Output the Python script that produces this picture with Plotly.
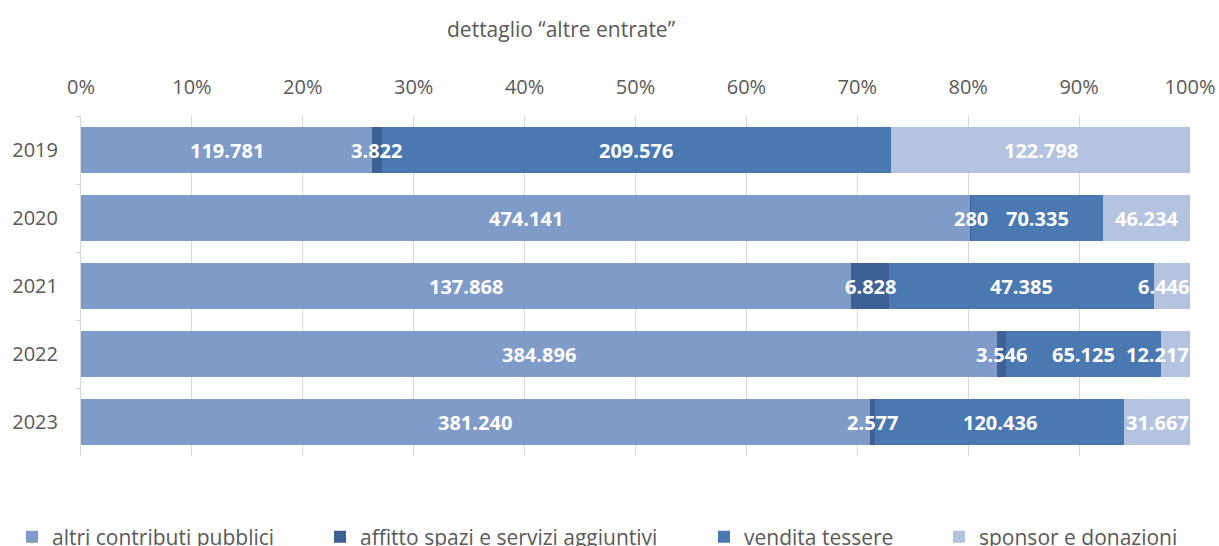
import plotly.graph_objects as go

years = ["2019", "2020", "2021", "2022", "2023"]
series_names = ["altri contributi pubblici", "affitto spazi e servizi aggiuntivi",
                "vendita tessere", "sponsor e donazioni"]
altri_contributi = [119781, 474141, 137868, 384896, 381240]
affitto_spazi = [3822, 280, 6828, 3546, 2577]
vendita_tessere = [209576, 70335, 47385, 65125, 120436]
sponsor_donazioni = [122798, 46234, 6446, 12217, 31667]
tick_labels = ["0%", "10%", "20%", "30%", "40%", "50%", "60%", "70%", "80%", "90%", "100%"]

series_values = [altri_contributi, affitto_spazi, vendita_tessere, sponsor_donazioni]
colors = ["#7F9CC8", "#3D6194", "#4A78B0", "#B4C3DF"]
legend_ids = ["legend", "legend2", "legend3", "legend4"]
legend_x_px = [12, 320, 704, 939]

def fmt(v):
    return f"{v:,}".replace(",", ".")

W, H = 1219, 546
L, R, T, B = 81, 29, 116, 90
PW = W - L - R
LABEL_CHAR_PX = 10.6  # approx. width per character of the data labels

fig = go.Figure()
for i, (name, vals) in enumerate(zip(series_names, series_values)):
    fig.add_trace(go.Bar(
        y=years, x=vals, name=name, orientation="h",
        marker=dict(color=colors[i], line=dict(width=0)),
        legend=legend_ids[i], hoverinfo="skip",
    ))

annotations = []
totals = [sum(s[j] for s in series_values) for j in range(len(years))]
for j, yr in enumerate(years):
    cum = 0
    for i, vals in enumerate(series_values):
        frac = vals[j] / totals[j]
        center = cum + frac / 2
        cum += frac
        txt = fmt(vals[j])
        half_w = LABEL_CHAR_PX * len(txt) / 2 / PW
        if center + half_w > 1:
            xpos, anchor = 1, "right"
        else:
            xpos, anchor = center, "center"
        annotations.append(dict(
            x=xpos, y=j, xref="x", yref="y", text=txt, xanchor=anchor,
            showarrow=False, borderpad=0,
            font=dict(family="Open Sans", size=20, color="white", weight="bold"),
        ))

legends = {}
for k, lid in enumerate(legend_ids):
    legends[lid] = dict(
        x=legend_x_px[k] / W, y=1 - 537 / H, xref="container", yref="container",
        xanchor="left", yanchor="middle", orientation="h",
        font=dict(family="Open Sans", size=21, color="#595959"),
        bgcolor="rgba(0,0,0,0)", borderwidth=0,
    )

fig.update_layout(
    width=W, height=H,
    margin=dict(l=L, r=R, t=T, b=B, autoexpand=False),
    paper_bgcolor="white", plot_bgcolor="white",
    barmode="stack", barnorm="fraction", bargap=0.33,
    title=dict(text="dettaglio “altre entrate”", x=561 / W, xref="container", xanchor="center",
               y=1 - 30 / H, yref="container", yanchor="middle",
               font=dict(family="Open Sans", size=21, color="#595959")),
    xaxis=dict(side="top", range=[0, 1], tickvals=[k / 10 for k in range(11)], ticktext=tick_labels,
               showgrid=True, gridcolor="#D9D9D9", gridwidth=1, zeroline=False, showline=False,
               ticks="", ticklabelstandoff=17, automargin=False,
               tickfont=dict(family="Open Sans", size=20, color="#595959")),
    yaxis=dict(range=[4.5, -0.5], type="category", showline=True, linecolor="#D9D9D9", linewidth=1,
               ticks="outside", tickson="boundaries", ticklen=4, tickcolor="#D9D9D9",
               ticklabelstandoff=18, showgrid=False, automargin=False,
               tickfont=dict(family="Open Sans", size=20, color="#595959")),
    annotations=annotations,
    showlegend=True,
    **legends,
)

fig.write_html("out.html", config={"displayModeBar": False},
               post_script="document.body.style.margin='0';")
